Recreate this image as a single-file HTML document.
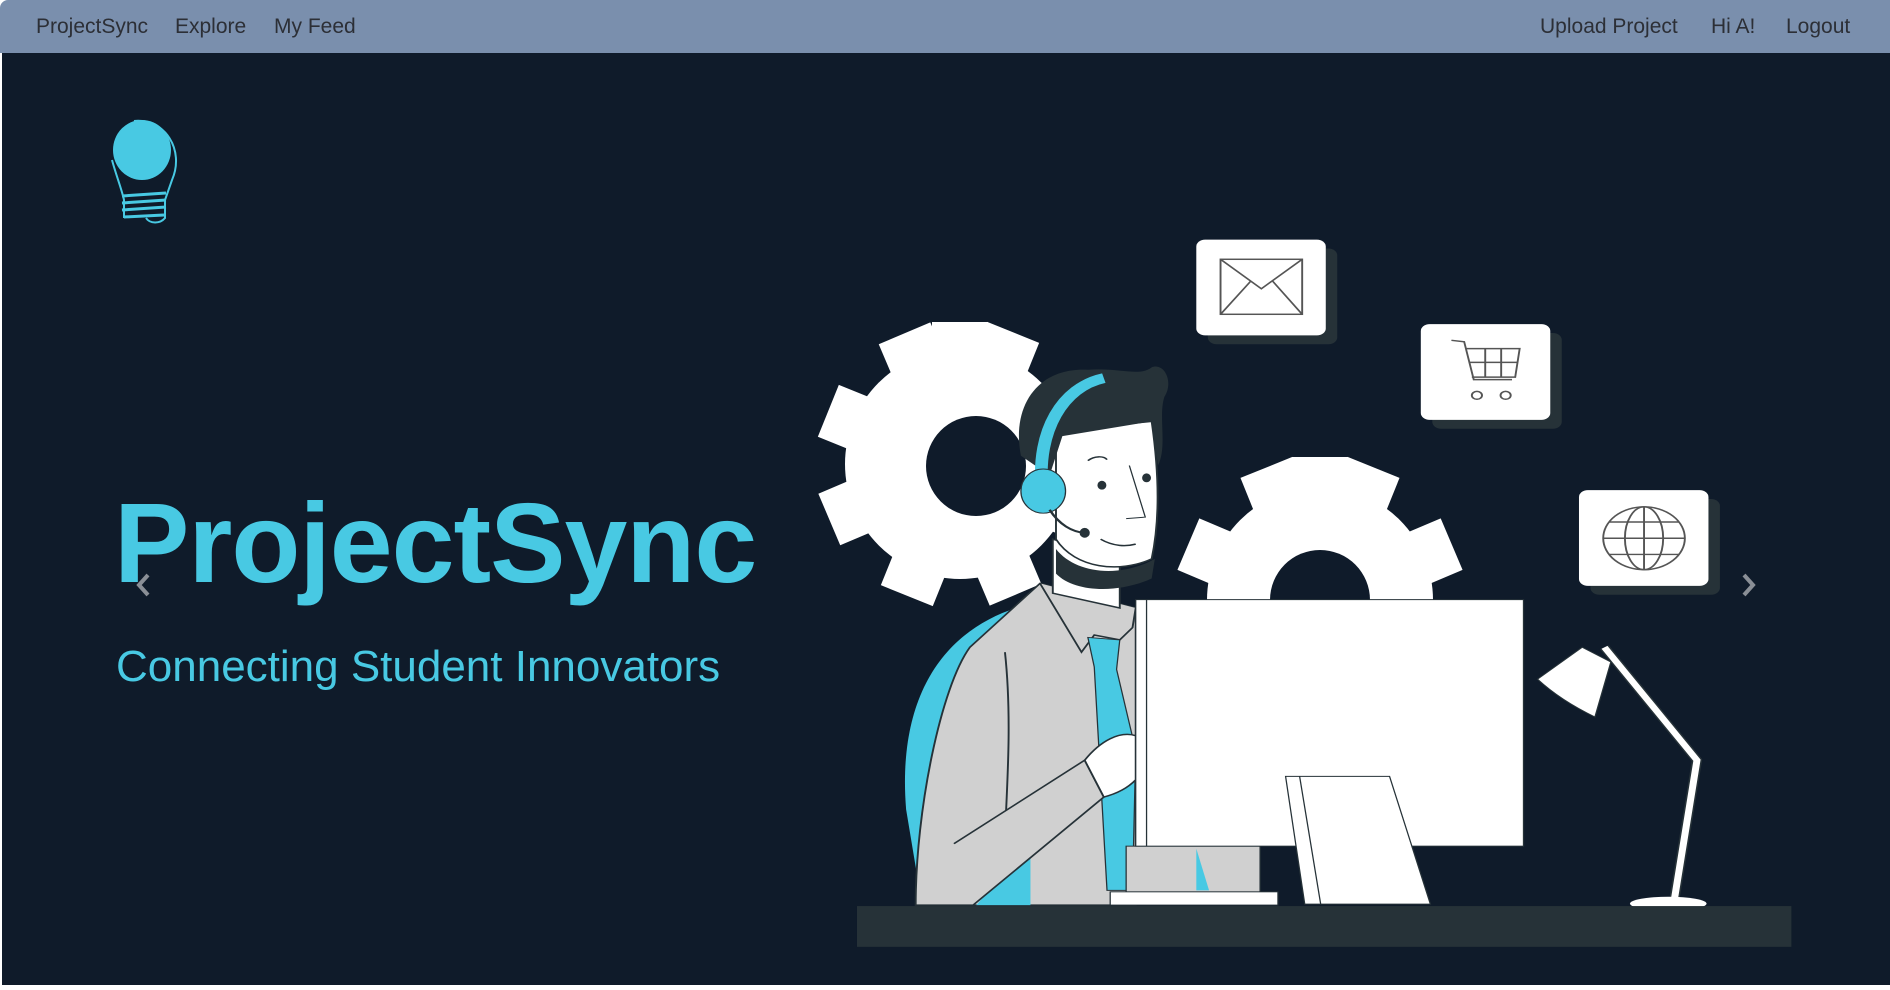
<!DOCTYPE html>
<html><head><meta charset="utf-8"><style>
html,body{margin:0;padding:0;width:1890px;height:990px;overflow:hidden;background:#fff;font-family:"Liberation Sans",sans-serif}
.nav{position:absolute;left:0;top:0;width:1890px;height:53px;background:#7a8fad;border-top-left-radius:8px}
.nav span{position:absolute;top:15px;font-size:21px;color:#2c2f36}
.main{position:absolute;left:2px;top:53px;width:1888px;height:932px;background:#0f1b2a}
.title{position:absolute;left:114px;top:487px;font-size:113px;font-weight:bold;color:#48c9e3;letter-spacing:-1px;line-height:1}
.sub{position:absolute;left:116px;top:645px;font-size:44px;color:#48c9e3;line-height:1}
</style></head><body>
<div class="nav">
<span style="left:36px">ProjectSync</span>
<span style="left:175px">Explore</span>
<span style="left:274px">My Feed</span>
<span style="left:1540px">Upload Project</span>
<span style="left:1711px">Hi A!</span>
<span style="left:1786px">Logout</span>
</div>
<div class="main"></div>
<div class="title">ProjectSync</div>
<div class="sub">Connecting Student Innovators</div>
<svg width="1890" height="990" style="position:absolute;left:0;top:0">
<g>
<ellipse cx="142" cy="150" rx="29" ry="30" fill="#48c9e3"/>
<path d="M134,121 C165,118 185,150 172,180 L165,200 L165,218 C160,224 150,224 146,218" fill="none" stroke="#48c9e3" stroke-width="2"/>
<path d="M112,160 C116,175 122,190 124,200 L124,218" fill="none" stroke="#48c9e3" stroke-width="2"/>
<g stroke="#48c9e3" stroke-width="3"><line x1="122" y1="196" x2="166" y2="193"/><line x1="122" y1="203" x2="166" y2="200"/><line x1="122" y1="210" x2="166" y2="207"/><line x1="124" y1="217" x2="164" y2="215"/></g>
</g>
<path d="M148,575 L139,585 L148,595" fill="none" stroke="#8a8f96" stroke-width="4"/>
<path d="M1744,575 L1753,585 L1744,595" fill="none" stroke="#8a8f96" stroke-width="4"/>
<g fill="#fff">
<circle cx="960" cy="464" r="115"/>
<g id="t1"><rect x="932" y="322" width="56" height="50"/></g>
<use href="#t1" transform="rotate(22 960 464)"/><use href="#t1" transform="rotate(67 960 464)"/><use href="#t1" transform="rotate(112 960 464)"/><use href="#t1" transform="rotate(157 960 464)"/><use href="#t1" transform="rotate(202 960 464)"/><use href="#t1" transform="rotate(247 960 464)"/><use href="#t1" transform="rotate(292 960 464)"/><use href="#t1" transform="rotate(337 960 464)"/>
</g>
<circle cx="976" cy="466" r="50" fill="#0f1b2a"/>
<g fill="#fff">
<circle cx="1320" cy="600" r="113"/>
<g id="t2"><rect x="1292" y="457" width="56" height="50"/></g>
<use href="#t2" transform="rotate(-22 1320 600)"/><use href="#t2" transform="rotate(22 1320 600)"/><use href="#t2" transform="rotate(67 1320 600)"/><use href="#t2" transform="rotate(-67 1320 600)"/>
</g>
<circle cx="1320" cy="600" r="50" fill="#0f1b2a"/>
<g transform="translate(820,220) scale(0.6378,0.4911)">
<g>
<rect x="608" y="58" width="203" height="195" rx="14" fill="#263238"/>
<rect x="590" y="40" width="203" height="195" rx="14" fill="#fff"/>
<rect x="628" y="80" width="128" height="112" fill="none" stroke="#555" stroke-width="3"/>
<path d="M628,80 L692,140 L756,80 M628,192 L675,125 M756,192 L710,125" fill="none" stroke="#555" stroke-width="3"/>
<rect x="960" y="230" width="203" height="195" rx="14" fill="#263238"/>
<rect x="942" y="212" width="203" height="195" rx="14" fill="#fff"/>
<path d="M990,245 L1010,248 L1025,325 L1085,325 M1013,262 L1097,262 L1090,320 L1022,320 M1018,290 L1093,290 M1043,262 L1043,320 M1068,262 L1068,320" fill="none" stroke="#555" stroke-width="3"/>
<circle cx="1030" cy="357" r="8" fill="none" stroke="#555" stroke-width="3"/><circle cx="1075" cy="357" r="8" fill="none" stroke="#555" stroke-width="3"/>
<rect x="1208" y="568" width="203" height="195" rx="14" fill="#263238"/>
<rect x="1190" y="550" width="203" height="195" rx="14" fill="#fff"/>
<circle cx="1292" cy="648" r="64" fill="none" stroke="#555" stroke-width="3"/>
<ellipse cx="1292" cy="648" rx="30" ry="64" fill="none" stroke="#555" stroke-width="3"/>
<path d="M1292,584 L1292,712 M1228,648 L1356,648 M1238,615 L1346,615 M1238,681 L1346,681" stroke="#555" stroke-width="3"/>
</g>
<path d="M335,780 C200,820 120,960 135,1200 L160,1395 L335,1395 Z" fill="#48c9e3"/>
<path d="M235,870 L345,740 L495,790 L495,1395 L150,1395 C150,1200 190,950 235,870 Z" fill="#d0d0d0" stroke="#263238" stroke-width="3"/>
<path d="M245,1395 L330,1270 L330,1395 Z" fill="#48c9e3"/>
<path d="M345,740 L410,880 L430,845 L470,855 L490,830 L495,790" fill="#d0d0d0" stroke="#263238" stroke-width="3"/>
<path d="M420,850 L470,855 L465,915 L495,1080 L490,1365 L450,1365 L430,910 Z" fill="#48c9e3" stroke="#263238" stroke-width="2"/>
<path d="M290,880 C300,1000 295,1120 290,1250" fill="none" stroke="#263238" stroke-width="3"/>
<path d="M210,1270 L415,1100 L445,1175 L240,1395" fill="#d0d0d0" stroke="#263238" stroke-width="3"/>
<path d="M415,1100 C440,1060 470,1040 495,1050 L495,1140 C480,1160 460,1170 445,1175 Z" fill="#fff" stroke="#263238" stroke-width="3"/>
<rect x="480" y="1275" width="210" height="95" fill="#d0d0d0" stroke="#263238" stroke-width="2"/>
<path d="M590,1280 L610,1365 L590,1365 Z" fill="#48c9e3"/>
<path d="M365,650 L365,760 L470,790 L470,690 Z" fill="#fff" stroke="#263238" stroke-width="3"/>
<path d="M370,430 L520,410 C530,500 535,600 520,690 C470,720 400,710 370,650 Z" fill="#fff" stroke="#263238" stroke-width="3"/>
<path d="M370,670 C400,720 470,730 525,690 L520,730 C470,760 400,760 370,720 Z" fill="#263238"/>
<path d="M315,480 C300,380 340,300 420,305 C470,300 500,320 520,300 C540,290 555,330 540,360 C530,400 545,460 530,500 L520,410 L380,440 L360,520 Z" fill="#263238"/>
<ellipse cx="442" cy="540" rx="7" ry="9" fill="#263238"/><ellipse cx="512" cy="525" rx="7" ry="9" fill="#263238"/>
<path d="M420,490 C430,480 445,480 450,488" fill="none" stroke="#263238" stroke-width="3"/>
<path d="M440,650 C460,665 480,665 495,660" fill="none" stroke="#263238" stroke-width="3"/>
<path d="M485,500 L510,605 L480,608" fill="none" stroke="#263238" stroke-width="2"/>
<path d="M348,545 C340,430 380,340 445,322" fill="none" stroke="#48c9e3" stroke-width="20"/>
<ellipse cx="350" cy="552" rx="35" ry="45" fill="#48c9e3" stroke="#263238" stroke-width="2"/>
<path d="M360,590 C375,620 395,635 415,637" fill="none" stroke="#263238" stroke-width="4"/>
<ellipse cx="415" cy="637" rx="8" ry="10" fill="#263238"/>
<rect x="495" y="773" width="608" height="502" fill="#fff" stroke="#263238" stroke-width="2"/>
<line x1="512" y1="773" x2="512" y2="1275" stroke="#263238" stroke-width="2"/>
<path d="M730,1133 L893,1133 L957,1393 L760,1393 Z" fill="#fff" stroke="#263238" stroke-width="2"/>
<line x1="752" y1="1133" x2="785" y2="1393" stroke="#263238" stroke-width="2"/>
<rect x="455" y="1368" width="263" height="27" fill="#fff" stroke="#263238" stroke-width="2"/>
<path d="M1230,870 L1375,1100 L1340,1380" fill="none" stroke="#263238" stroke-width="16"/>
<path d="M1230,870 L1375,1100 L1340,1380" fill="none" stroke="#fff" stroke-width="11"/>
<path d="M1125,935 L1195,870 L1240,900 L1215,1012 C1180,990 1150,965 1125,935 Z" fill="#fff" stroke="#263238" stroke-width="2"/>
<ellipse cx="1330" cy="1392" rx="60" ry="14" fill="#fff"/>
<rect x="58" y="1397" width="1465" height="83" fill="#263238"/>
</g>
</svg>
</body></html>
